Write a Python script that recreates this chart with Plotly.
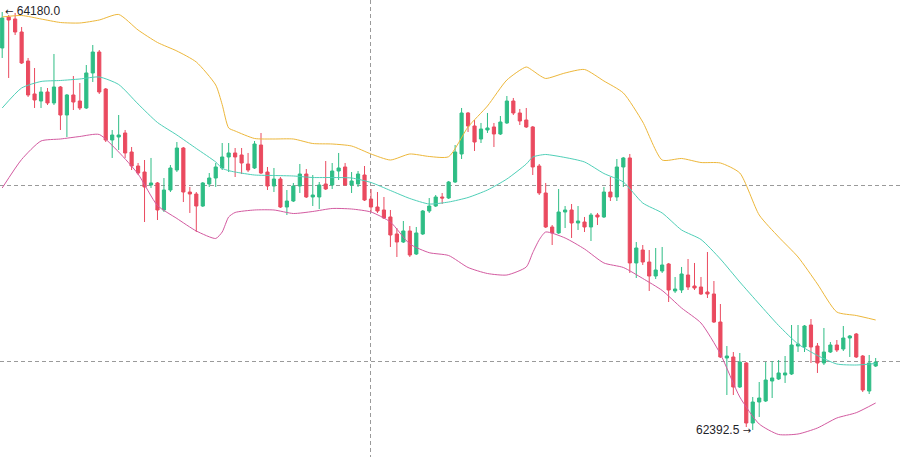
import plotly.graph_objects as go

# ---- data ----
candle_idx = list(range(136))
opens = [64026.1, 64158.7, 64150.1, 64094.4, 63970.4, 63829.4, 63799.4, 63837.9, 63790.9, 63859.3,
         63739.5, 63825.1, 63799.4, 63769.5, 63919.2, 64008.9, 63850.7, 63632.6, 63645.5, 63662.6,
         63581.3, 63521.4, 63495.7, 63440.2, 63448.8, 63333.3, 63418.8, 63504.3, 63598.4, 63410.2,
         63401.7, 63350.3, 63444.5, 63470.1, 63512.9, 63560.0, 63577.1, 63568.5, 63530.0, 63512.9,
         63611.2, 63495.7, 63435.9, 63465.8, 63346.1, 63371.7, 63435.9, 63487.2, 63388.9, 63388.9,
         63444.5, 63440.2, 63500.0, 63517.2, 63440.2, 63444.5, 63482.9, 63380.3, 63346.1, 63333.3,
         63303.4, 63230.7, 63196.4, 63243.5, 63145.1, 63230.7, 63329.0, 63350.3, 63388.9, 63384.6,
         63453.0, 63572.8, 63748.1, 63692.5, 63636.9, 63675.4, 63688.3, 63658.3, 63705.4, 63799.4,
         63748.1, 63718.2, 63688.3, 63521.4, 63406.0, 63260.6, 63235.0, 63324.7, 63333.3, 63277.7,
         63281.9, 63260.6, 63311.9, 63303.4, 63410.2, 63388.9, 63517.2, 63555.7, 63106.7, 63162.2,
         63110.9, 63051.0, 63072.4, 63102.4, 62986.9, 62991.2, 63055.3, 63008.2, 63004.0, 62982.6,
         62974.1, 62854.3, 62700.4, 62704.7, 62576.4, 62679.0, 62422.4, 62512.2, 62516.5, 62602.0,
         62610.6, 62627.7, 62632.0, 62751.6, 62747.4, 62841.5, 62751.6, 62679.0, 62726.0, 62755.9,
         62738.8, 62785.9, 62803.0, 62708.9, 62559.2, 62666.1]
highs = [64180.0, 64167.2, 64175.8, 64115.9, 63983.3, 63940.5, 63859.3, 63855.0, 64000.4, 63863.5,
         63829.4, 63906.3, 63876.4, 63953.3, 64038.9, 64017.5, 63855.0, 63675.4, 63739.5, 63675.4,
         63602.7, 63534.3, 63547.1, 63555.7, 63453.0, 63470.1, 63525.7, 63624.0, 63602.7, 63431.7,
         63410.2, 63453.0, 63491.5, 63534.3, 63619.8, 63619.8, 63598.4, 63598.4, 63577.1, 63628.3,
         63662.6, 63517.2, 63512.9, 63474.4, 63418.8, 63448.8, 63530.0, 63508.6, 63482.9, 63453.0,
         63542.8, 63534.3, 63577.1, 63534.3, 63495.7, 63500.0, 63521.4, 63423.1, 63410.2, 63388.9,
         63333.3, 63256.3, 63286.2, 63264.8, 63260.6, 63333.3, 63384.6, 63397.4, 63406.0, 63457.3,
         63611.2, 63769.5, 63752.3, 63718.2, 63705.4, 63748.1, 63705.4, 63735.2, 63820.8, 63812.3,
         63765.2, 63769.5, 63692.5, 63530.0, 63448.8, 63269.1, 63423.1, 63350.3, 63358.9, 63350.3,
         63303.4, 63320.5, 63320.5, 63431.7, 63474.4, 63551.4, 63560.0, 63572.8, 63196.4, 63183.6,
         63162.2, 63170.8, 63175.1, 63106.7, 63046.8, 63089.6, 63123.7, 63106.7, 63046.8, 63153.6,
         63029.6, 62931.3, 62751.6, 62726.0, 62721.8, 62683.2, 62533.6, 62597.7, 62683.2, 62687.5,
         62691.8, 62708.9, 62841.5, 62841.5, 62841.5, 62867.1, 62764.5, 62828.7, 62768.7, 62777.3,
         62837.2, 62798.7, 62807.3, 62713.2, 62713.2, 62700.4]
lows = [63983.3, 63897.8, 64081.6, 63957.6, 63816.6, 63769.5, 63769.5, 63782.3, 63782.3, 63675.4,
        63645.5, 63760.9, 63760.9, 63765.2, 63880.6, 63829.4, 63624.0, 63555.7, 63589.9, 63555.7,
        63504.3, 63482.9, 63281.9, 63427.4, 63290.5, 63324.7, 63410.2, 63495.7, 63367.4, 63320.5,
        63239.2, 63346.1, 63431.7, 63431.7, 63504.3, 63495.7, 63474.4, 63487.2, 63495.7, 63508.6,
        63487.2, 63418.8, 63410.2, 63341.8, 63311.9, 63367.4, 63406.0, 63384.6, 63350.3, 63337.5,
        63418.8, 63423.1, 63461.6, 63435.9, 63406.0, 63431.7, 63371.7, 63324.7, 63320.5, 63294.8,
        63175.1, 63132.3, 63192.2, 63132.3, 63140.8, 63226.4, 63320.5, 63346.1, 63358.9, 63380.3,
        63448.8, 63551.4, 63666.8, 63585.6, 63619.8, 63662.6, 63602.7, 63654.0, 63701.1, 63739.5,
        63696.8, 63684.0, 63482.9, 63397.4, 63256.3, 63183.6, 63230.7, 63256.3, 63213.6, 63247.8,
        63239.2, 63200.7, 63269.1, 63299.1, 63371.7, 63371.7, 63431.7, 63063.9, 63042.5, 63098.1,
        62986.9, 63038.2, 63063.9, 62939.8, 62978.4, 62978.4, 62991.2, 62991.2, 62969.8, 62957.0,
        62850.1, 62700.4, 62542.1, 62542.1, 62572.1, 62405.3, 62392.5, 62448.1, 62512.2, 62529.3,
        62606.3, 62593.5, 62627.7, 62726.0, 62726.0, 62679.0, 62636.3, 62670.4, 62721.8, 62726.0,
        62730.3, 62704.7, 62700.4, 62554.9, 62546.4, 62661.9]
closes = [64154.4, 64145.8, 64094.4, 63961.9, 63825.1, 63803.7, 63837.9, 63790.9, 63859.3, 63739.5,
          63825.1, 63795.1, 63769.5, 63919.2, 64008.9, 63837.9, 63632.6, 63654.0, 63654.0, 63577.1,
          63521.4, 63491.5, 63431.7, 63448.8, 63333.3, 63418.8, 63512.9, 63598.4, 63410.2, 63401.7,
          63350.3, 63448.8, 63470.1, 63517.2, 63560.0, 63577.1, 63560.0, 63534.3, 63504.3, 63615.5,
          63491.5, 63435.9, 63465.8, 63346.1, 63371.7, 63435.9, 63487.2, 63388.9, 63397.4, 63440.2,
          63423.1, 63500.0, 63512.9, 63440.2, 63457.3, 63487.2, 63376.0, 63346.1, 63329.0, 63299.1,
          63226.4, 63196.4, 63243.5, 63140.8, 63235.0, 63329.0, 63350.3, 63388.9, 63384.6, 63453.0,
          63581.3, 63748.1, 63692.5, 63624.0, 63679.7, 63684.0, 63658.3, 63709.6, 63799.4, 63748.1,
          63713.9, 63688.3, 63517.2, 63406.0, 63260.6, 63235.0, 63324.7, 63333.3, 63277.7, 63286.2,
          63260.6, 63311.9, 63303.4, 63410.2, 63388.9, 63517.2, 63555.7, 63106.7, 63170.8, 63110.9,
          63051.0, 63076.7, 63098.1, 62991.2, 62995.4, 63059.6, 63004.0, 62999.7, 62974.1, 62974.1,
          62854.3, 62704.7, 62708.9, 62576.4, 62683.2, 62422.4, 62512.2, 62529.3, 62606.3, 62614.9,
          62636.3, 62636.3, 62755.9, 62760.2, 62837.2, 62747.4, 62679.0, 62726.0, 62755.9, 62734.6,
          62785.9, 62794.4, 62704.7, 62563.5, 62679.0, 62683.2]

band_idx = [0, 3, 6, 9, 12, 15, 18, 21, 24, 27, 30, 33, 34, 35, 36, 39, 42, 45, 48, 51, 54, 57,
            60, 63, 66, 69, 72, 75, 78, 81, 82, 83, 84, 87, 90, 93, 96, 99, 102, 105, 108, 111,
            114, 117, 120, 123, 126, 129, 132, 135]
boll_up = [64158.7, 64165.1, 64150.1, 64135.1, 64133.0, 64145.8, 64169.4, 64103.0, 64049.6, 64013.2,
           63966.1, 63867.8, 63784.0, 63684.0, 63671.1, 63639.1, 63636.9, 63636.9, 63617.6, 63615.5,
           63606.9, 63572.8, 63547.1, 63572.8, 63562.1, 63561.2, 63688.3, 63778.0, 63889.2, 63944.8,
           63929.4, 63909.8, 63895.7, 63919.2, 63934.1, 63884.9, 63833.7, 63709.6, 63547.1, 63553.6,
           63536.4, 63534.3, 63491.5, 63311.9, 63217.9, 63132.3, 63016.8, 62897.0, 62882.1, 62862.9]
boll_mb = [63769.5, 63855.0, 63882.8, 63887.1, 63893.5, 63902.1, 63870.0, 63786.6, 63707.5, 63654.0,
           63596.3, 63538.6, 63511.6, 63501.7, 63495.7, 63482.9, 63480.8, 63478.7, 63472.2, 63472.2,
           63470.1, 63450.9, 63416.7, 63382.5, 63358.9, 63367.4, 63386.7, 63418.8, 63465.8, 63530.0,
           63559.9, 63567.2, 63570.7, 63557.8, 63538.6, 63489.3, 63453.0, 63363.2, 63320.5, 63247.8,
           63207.2, 63123.7, 63025.3, 62931.3, 62839.4, 62760.2, 62711.1, 62674.7, 62670.4, 62676.8]
boll_dn = [63427.4, 63549.3, 63628.3, 63636.9, 63647.6, 63656.2, 63581.3, 63487.2, 63352.5, 63297.0,
           63243.5, 63211.5, 63239.2, 63303.4, 63322.6, 63333.3, 63333.3, 63318.3, 63326.9, 63339.7,
           63337.5, 63324.7, 63281.9, 63187.9, 63150.7, 63138.7, 63087.4, 63061.7, 63055.3, 63089.6,
           63150.7, 63205.9, 63239.2, 63213.6, 63166.5, 63106.7, 63087.4, 63040.4, 62989.1, 62914.2,
           62850.0, 62717.5, 62533.6, 62418.1, 62373.3, 62375.4, 62401.0, 62443.8, 62466.5, 62508.0]

high_mark = (0, 64180.0)
low_mark = (116, 62392.5)
grid_prices = [63438.9, 62684.5]
grid_idx = [56.93]

# ---- styling ----
GREEN = "#2EBD85"
RED = "#EA4A5F"
UP_C, MB_C, DN_C = "#EDB73A", "#4ECFB7", "#D35AA0"
FONT = "Liberation Sans, Arial, sans-serif"
ARROW_STYLE = "font-family:'DejaVu Sans';font-size:10px"

fig = go.Figure()
fig.add_trace(go.Candlestick(
    x=candle_idx, open=opens, high=highs, low=lows, close=closes,
    increasing=dict(line=dict(color=GREEN, width=1), fillcolor=GREEN),
    decreasing=dict(line=dict(color=RED, width=1), fillcolor=RED),
    whiskerwidth=0, hoverinfo="skip", showlegend=False,
))
for vals, col in ((boll_up, UP_C), (boll_mb, MB_C), (boll_dn, DN_C)):
    fig.add_trace(go.Scatter(x=band_idx, y=vals, mode="lines",
                             line=dict(color=col, width=1, shape="spline", smoothing=0.6),
                             hoverinfo="skip", showlegend=False))

fig.add_annotation(x=high_mark[0], y=high_mark[1], xref="x", yref="y",
                   text=f"<span style=\"{ARROW_STYLE}\">\u2190</span> {high_mark[1]:.1f}",
                   showarrow=False, xanchor="left", yanchor="middle", xshift=1, yshift=1,
                   font=dict(family=FONT, size=12, color="#1E2329"))
fig.add_annotation(x=low_mark[0], y=low_mark[1], xref="x", yref="y",
                   text=f"{low_mark[1]:.1f} <span style=\"{ARROW_STYLE}\">\u2192</span>",
                   showarrow=False, xanchor="right", yanchor="middle", xshift=0, yshift=0,
                   font=dict(family=FONT, size=12, color="#1E2329"))

fig.update_layout(
    width=900, height=457,
    margin=dict(l=0, r=0, t=0, b=0),
    paper_bgcolor="white", plot_bgcolor="white",
    showlegend=False, hovermode=False,
    xaxis=dict(range=[-0.34, 138.76], tickvals=grid_idx, showticklabels=False,
               showgrid=True, gridcolor="#9a9a9a", gridwidth=1, griddash="4px,3px",
               zeroline=False, showline=False, ticks="",
               rangeslider=dict(visible=False), fixedrange=True),
    yaxis=dict(range=[62277.0, 64231.3], tickvals=grid_prices, showticklabels=False,
               showgrid=True, gridcolor="#9a9a9a", gridwidth=1, griddash="4px,3px",
               zeroline=False, showline=False, ticks="", fixedrange=True),
)

fig.write_html("out.html", config={"displayModeBar": False})
